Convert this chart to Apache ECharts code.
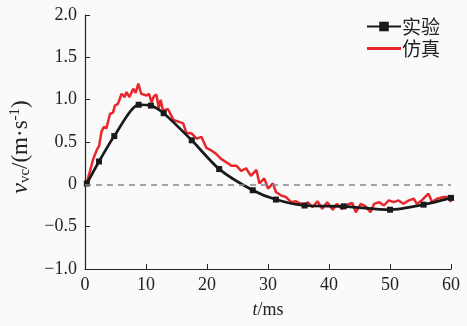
<!DOCTYPE html>
<html><head><meta charset="utf-8">
<script src="https://cdn.jsdelivr.net/npm/echarts@6/dist/echarts.min.js"></script>
<style>html,body{margin:0;padding:0;background:#fafafa}#c{width:467px;height:326px}</style>
</head><body><div id="c"></div>
<script>
const seriesNames = ['实验', '仿真'];
const yTicks = [-1.0, -0.5, 0, 0.5, 1.0, 1.5, 2.0];
const xTicks = [0, 10, 20, 30, 40, 50, 60];
const expT = [0.3, 2.3, 4.8, 8.8, 10.8, 12.9, 17.5, 22.0, 27.5, 31.3, 36.0, 42.4, 50.0, 55.5, 60.0];
const expV = [0.01, 0.27, 0.57, 0.94, 0.93, 0.84, 0.52, 0.18, -0.07, -0.18, -0.25, -0.26, -0.30, -0.24, -0.16];
const simT = [0.2,0.8,1.35,1.9,2.3,2.7,3.1,3.5,4.1,4.6,4.9,5.4,6.0,6.5,6.8,7.3,7.9,8.3,8.75,9.2,9.5,10.1,10.5,10.9,11.3,11.7,12.1,12.4,12.8,13.6,14.5,15.3,16.1,16.6,17.5,18.3,19.1,19.9,20.7,21.5,22.3,23.2,24.0,24.8,25.6,26.4,27.2,28.1,28.6,29.4,30.0,30.8,31.3,32.1,32.95,33.8,34.6,35.4,36.2,36.5,37.3,38.1,38.9,39.7,40.6,41.3,42.1,43.0,43.8,44.4,45.2,46.0,46.8,47.4,48.2,49.0,49.8,50.6,51.4,52.2,53.1,53.9,54.4,55.2,56.3,56.9,57.7,58.8,59.6,60.0];
const simV = [0.0,0.15,0.3,0.4,0.45,0.62,0.68,0.66,0.83,0.85,0.93,0.95,1.07,1.03,1.09,1.03,1.13,1.08,1.19,1.07,1.09,1.05,1.07,0.97,1.04,1.06,0.9,1.0,0.87,0.89,0.76,0.74,0.72,0.61,0.6,0.54,0.56,0.43,0.4,0.36,0.3,0.26,0.22,0.22,0.16,0.19,0.1,0.17,0.01,0.07,-0.05,0.01,-0.09,-0.13,-0.15,-0.21,-0.2,-0.23,-0.24,-0.21,-0.27,-0.2,-0.29,-0.21,-0.3,-0.23,-0.29,-0.24,-0.22,-0.33,-0.23,-0.26,-0.33,-0.23,-0.21,-0.25,-0.19,-0.21,-0.19,-0.23,-0.19,-0.17,-0.23,-0.19,-0.11,-0.21,-0.17,-0.15,-0.15,-0.21];

const serif = '"Liberation Serif", "DejaVu Serif", serif';
const chart = echarts.init(document.getElementById('c'));
chart.setOption({
  backgroundColor: '#fafafa',
  animation: false,
  grid: {left: 83, right: 16, top: 15, bottom: 57},
  legend: {
    data: [{name: seriesNames[0]}, {name: seriesNames[1], itemStyle: {opacity: 0}, lineStyle: {width: 3}}],
    orient: 'vertical', right: 22, top: 12, itemWidth: 34, itemHeight: 12, itemGap: 3,
    textStyle: {fontFamily: '"Noto Sans CJK SC"', fontSize: 19, color: '#222', padding: [0,0,0,-4]}
  },
  xAxis: {
    type: 'value', min: 0, max: 60, interval: 10,
    name: '{i|t}/ms', nameLocation: 'middle', nameGap: 32,
    nameTextStyle: {fontFamily: serif, fontSize: 18, color: '#222', rich: {i: {fontStyle: 'italic', fontFamily: serif, fontSize: 18, color: '#222'}}},
    axisLine: {onZero: false, lineStyle: {color: '#222', width: 1.2}},
    axisTick: {inside: true, length: 5, lineStyle: {color: '#222'}},
    axisLabel: {fontFamily: serif, fontSize: 18, color: '#222', margin: 7, formatter: v => xTicks.includes(v) ? String(v) : ''},
    splitLine: {show: false}
  },
  yAxis: {
    type: 'value', min: -1, max: 2, interval: 0.5,
    name: '{i|v}{s|vc}/(m·s{p|-1})', nameLocation: 'middle', nameGap: 52, nameRotate: 90,
    nameTextStyle: {fontFamily: serif, fontSize: 23, color: '#222', padding: [0, 10, 0, 0],
      rich: {i: {fontStyle: 'italic', fontFamily: serif, fontSize: 24, color: '#222'},
             s: {fontFamily: serif, fontSize: 15, color: '#222', verticalAlign: 'bottom', padding: [10,0,0,0]},
             p: {fontFamily: serif, fontSize: 15, color: '#222', verticalAlign: 'top', padding: [0,0,10,0]}}},
    axisLine: {show: true, onZero: false, lineStyle: {color: '#222', width: 1.2}},
    axisTick: {show: true, inside: true, length: 5, lineStyle: {color: '#222'}},
    axisLabel: {fontFamily: serif, fontSize: 18, color: '#222', margin: 8,
      formatter: v => v === 0 ? '0' : (v < 0 ? '\u2212' + Math.abs(v).toFixed(1) : v.toFixed(1))},
    splitLine: {show: false}
  },
  series: [
    {
      name: seriesNames[1], type: 'line', z: 2,
      data: simT.map((t, i) => [t, simV[i]]),
      showSymbol: false, symbol: 'none',
      lineStyle: {color: '#e8262b', width: 2.5}, itemStyle: {color: '#e8262b'},
      markLine: {silent: true, symbol: 'none', label: {show: false},
        lineStyle: {color: '#888', type: [6, 5], width: 1.5},
        data: [{yAxis: 0}]}
    },
    {
      name: seriesNames[0], type: 'line', z: 3,
      data: expT.map((t, i) => [t, expV[i]]),
      smooth: 0.25, symbol: 'rect', symbolSize: 6,
      lineStyle: {color: '#1a1a1a', width: 2.7}, itemStyle: {color: '#1a1a1a'}
    }
  ]
});
</script></body></html>
